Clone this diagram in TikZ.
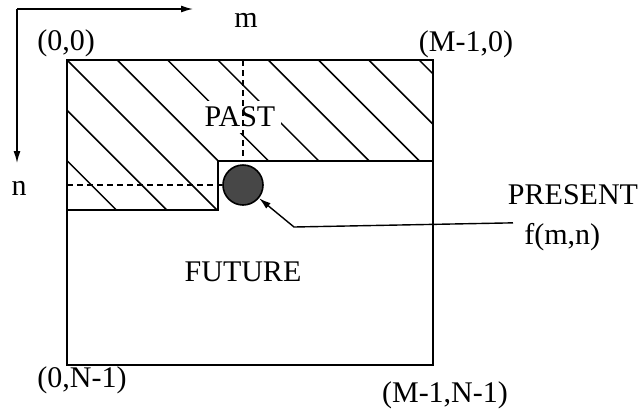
\documentclass[tikz,border=0pt]{standalone}
\usepackage{fontspec}
\setmainfont{Liberation Serif}
\usetikzlibrary{arrows.meta}

\begin{document}
\begin{tikzpicture}[
    x=0.5pt, y=-0.5pt,
    lbl/.style={font=\fontsize{15}{18}\selectfont, inner sep=0pt},
    edge/.style={line width=0.9pt},
    hatch/.style={line width=0.75pt},
    guide/.style={line width=0.7pt, dash pattern=on 3pt off 2pt},
    arr/.style={-{Latex[length=6pt, width=3.5pt]}, line width=0.7pt}
]
\useasboundingbox (0,0) rectangle (639,409);

% past region, hatched
\begin{scope}
\clip (67,60) -- (433,60) -- (433,161) -- (218,161) -- (218,210) -- (67,210) -- cycle;
\foreach \k in {-2,...,7}
  \draw[hatch] ({67+50.3*\k},60) -- ++(160,160);
\end{scope}
\node[lbl, fill=white, inner sep=3pt] (past) at (240,117) {PAST};

% frame and boundary past/future
\draw[edge] (67,60) rectangle (433,365);
\draw[edge] (433,161) -- (218,161) -- (218,210) -- (67,210);

% present sample
\node[circle, draw, line width=0.8pt, fill=black!72, minimum size=20pt, inner sep=0pt] (cur) at (243,185) {};
\draw[guide] (243,60) -- (243,161);
\draw[guide] (67,185) -- (cur.west);

% axes
\coordinate (o) at (17,9);
\coordinate (mend) at (193,9);
\coordinate (nend) at (17,163);
\draw[arr] (o) -- (mend);
\draw[arr] (o) -- (nend);
\node[lbl] (m) at (246,20) {m};
\node[lbl] (n) at (19,188) {n};

% corners
\node[lbl] (tl) at (66,43) {(0,0)};
\node[lbl] (tr) at (466,44) {(M-1,0)};
\node[lbl] (bl) at (82,380) {(0,N-1)};
\node[lbl] (br) at (445,395) {(M-1,N-1)};

\node[lbl] (fut) at (243,272) {FUTURE};
\node[lbl] (pres) at (573,195) {PRESENT};
\node[lbl, anchor=west] (fmn) at (524,237) {f(m,n)};

\coordinate (knee) at (294,227);
\draw[arr] ([xshift=-5.5pt]fmn.north west) -- (knee) -- (cur);
\end{tikzpicture}
\end{document}
